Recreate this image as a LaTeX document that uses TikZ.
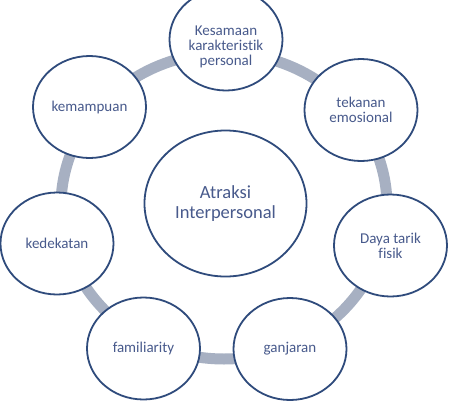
\documentclass[tikz,border=0pt]{standalone}
\usepackage{fontspec}
\setmainfont{Carlito}[Ligatures=NoCommon]
\usetikzlibrary{shapes.geometric}
\definecolor{bord}{HTML}{2F4B7C}
\definecolor{txtc}{HTML}{485A8C}
\definecolor{ringc}{HTML}{A7B0C2}
\tikzset{
  bub/.style={ellipse, draw=bord, line width=1.8pt, fill=white, inner sep=0pt,
    minimum width=113pt, minimum height=102pt},
  big/.style={ellipse, draw=bord, line width=1.8pt, fill=white, inner sep=0pt,
    minimum width=162pt, minimum height=146pt},
  lbl/.style={text=txtc, align=center, inner sep=0pt, font=\fontsize{15}{15}\selectfont},
  biglbl/.style={text=txtc, align=center, inner sep=0pt, font=\fontsize{18.5}{20}\selectfont},
}
\begin{document}
\begin{tikzpicture}[x=1pt,y=-1pt]
\clip (0,0) rectangle (451,400);
\fill[white] (0,0) rectangle (451,400);
% ring
\draw[ringc, line width=11pt] (224,206) ellipse [x radius=163pt, y radius=153pt];
% outer nodes
\node[bub] (n1) at (226,39.5) {};
\node[lbl] (t1) at ([yshift=-7pt]n1.center) {Kesamaan\\karakteristik\\personal};
\node[bub,lbl] (n2) at (361,110) {tekanan\\emosional};
\node[bub,lbl] (n3) at (390.5,245.5) {Daya tarik\\fisik};
\node[bub,lbl] (n4) at (290,349) {ganjaran};
\node[bub,lbl] (n5) at (143.5,348.5) {familiarity};
\node[bub,lbl] (n6) at (57,243.5) {kedekatan};
\node[bub,lbl] (n7) at (89.5,107) {kemampuan};
% center
\node[big,biglbl] (c) at (225.5,203.5) {Atraksi\\Interpersonal};
\end{tikzpicture}
\end{document}
